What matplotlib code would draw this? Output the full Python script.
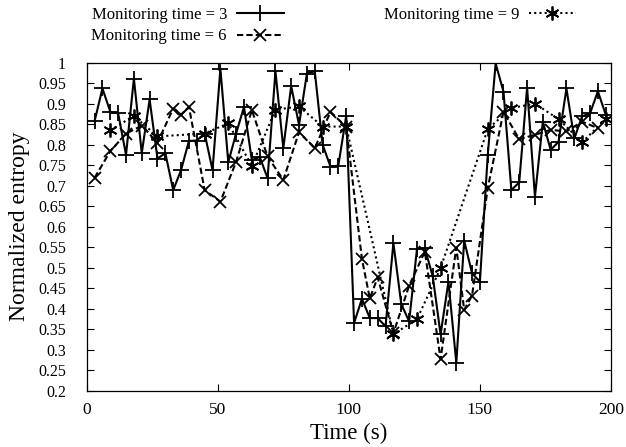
import matplotlib
matplotlib.use('Agg')
import matplotlib.pyplot as plt
from matplotlib.ticker import MultipleLocator, FormatStrFormatter

plt.rcParams['font.family'] = ['Liberation Serif', 'DejaVu Serif']

# Monitoring time = 3
t3 = [3, 6, 9, 12, 15, 18, 21, 24, 27, 30, 33, 36, 39, 42, 45, 48, 51, 54, 57, 60,
      63, 66, 69, 72, 75, 78, 81, 84, 87, 90, 93, 96, 99, 102, 105, 108, 111, 114, 117, 120,
      123, 126, 129, 132, 135, 138, 141, 144, 147, 150, 153, 156, 159, 162, 165, 168, 171, 174, 177, 180,
      183, 186, 189, 192, 195, 198]
v3 = [0.857, 0.937, 0.880, 0.876, 0.775, 0.961, 0.779, 0.910, 0.766, 0.779, 0.689, 0.738, 0.809, 0.810, 0.827, 0.738, 0.985, 0.757, 0.827, 0.892,
      0.762, 0.770, 0.718, 0.979, 0.791, 0.943, 0.848, 0.973, 0.979, 0.800, 0.746, 0.749, 0.870, 0.365, 0.424, 0.377, 0.377, 0.357, 0.560, 0.411,
      0.369, 0.546, 0.547, 0.479, 0.337, 0.466, 0.268, 0.566, 0.486, 0.466, 0.775, 0.998, 0.929, 0.689, 0.708, 0.939, 0.673, 0.856, 0.787, 0.807,
      0.937, 0.815, 0.869, 0.876, 0.930, 0.873]

# Monitoring time = 6
t6 = [3, 9, 15, 21, 27, 33, 36, 39, 45, 51, 57, 63, 69, 75, 81, 87, 93, 99,
      105, 108, 111, 117, 123, 129, 135, 141, 144, 147, 153, 159, 165, 171, 177, 183, 189, 195]
v6 = [0.719, 0.784, 0.827, 0.846, 0.805, 0.888, 0.873, 0.892, 0.689, 0.661, 0.758, 0.884, 0.771, 0.714, 0.830, 0.791, 0.880, 0.843,
      0.521, 0.425, 0.476, 0.340, 0.456, 0.539, 0.277, 0.549, 0.397, 0.432, 0.694, 0.880, 0.813, 0.824, 0.836, 0.832, 0.856, 0.840]

# Monitoring time = 9
t9 = [9, 18, 27, 45, 54, 63, 72, 81, 90, 99, 117, 126, 135, 153, 162, 171, 180, 189, 198]
v9 = [0.835, 0.870, 0.820, 0.827, 0.852, 0.748, 0.885, 0.893, 0.844, 0.844, 0.338, 0.374, 0.499, 0.838, 0.889, 0.900, 0.862, 0.806, 0.862]

fig = plt.figure(figsize=(6.26, 4.47), dpi=100)
ax = fig.add_axes([0.1385, 0.126, 0.8375, 0.734])

asterisk = (6, 2, 0)
ax.plot(t3, v3, color='black', lw=1.5, marker='+', ms=11, mew=1.3,
        label='Monitoring time = 3')
ax.plot(t6, v6, color='black', lw=1.5, ls=(0, (3, 1.5)), marker='x', ms=8, mew=1.3,
        label='Monitoring time = 6')
ax.plot(t9, v9, color='black', lw=1.5, ls=(0, (1, 1.5)), marker=asterisk, ms=10, mew=1.3,
        label='Monitoring time = 9')

ax.set_xlim(0, 200)
ax.set_ylim(0.2, 1.0)
ax.xaxis.set_major_locator(MultipleLocator(50))
ax.yaxis.set_major_locator(MultipleLocator(0.05))
ax.yaxis.set_major_formatter(FormatStrFormatter('%g'))
ax.tick_params(direction='in', top=True, right=True, length=5, width=0.8)
ax.tick_params(axis='x', labelsize=12.5, pad=8)
ax.tick_params(axis='y', labelsize=11.5, pad=15)
for s in ax.spines.values():
    s.set_linewidth(0.9)

ax.set_xlabel('Time (s)', fontsize=16.5, labelpad=4)
ax.set_ylabel('Normalized entropy', fontsize=17, labelpad=6)

leg = ax.legend(loc='lower left', bbox_to_anchor=(-0.01, 1.025), ncol=2, frameon=False,
                markerfirst=False, fontsize=12, handlelength=2.8, columnspacing=6.0,
                labelspacing=0.35, handletextpad=0.6, borderaxespad=0.2)

fig.savefig('out.png', dpi=100)
